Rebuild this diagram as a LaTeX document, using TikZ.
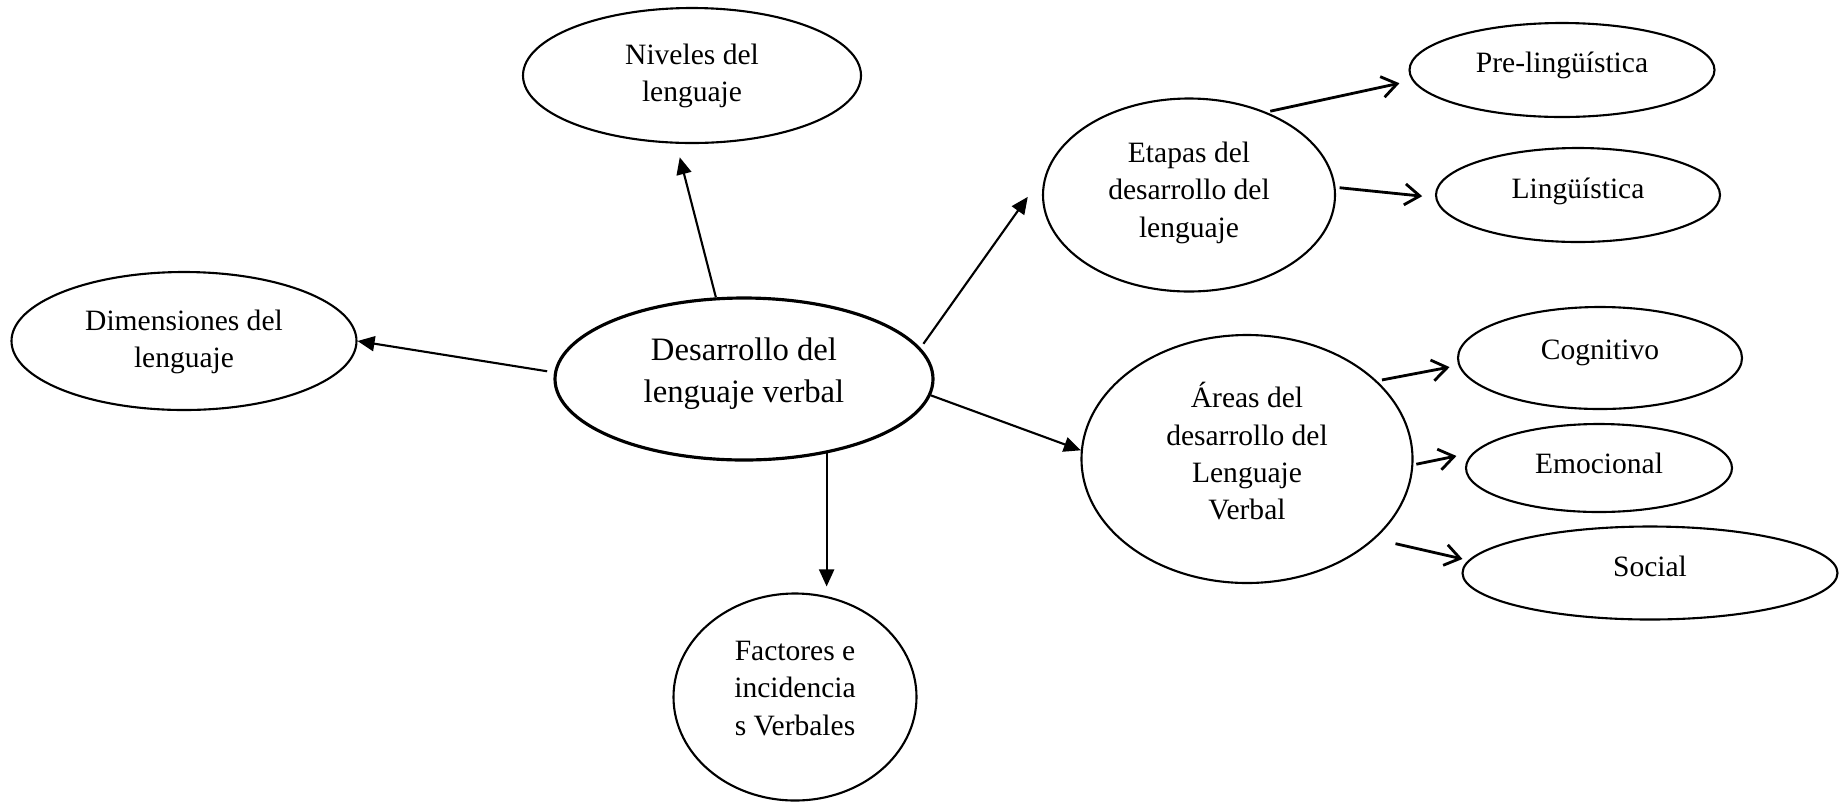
\documentclass[tikz,border=0pt]{standalone}
\usepackage{fontspec}
\setmainfont{Liberation Serif}
\usetikzlibrary{shapes.geometric, arrows.meta}

\newcommand{\ovaltext}[2][0mm]{\raisebox{\dimexpr #1-.25em\relax}[0pt][0pt]{\begin{tabular}{@{}c@{}}#2\end{tabular}}}

\begin{document}
\begin{tikzpicture}[x=0.1mm, y=-0.1mm,
  oval/.style={ellipse, draw, line width=0.6pt, inner sep=0pt, font=\fontsize{8.4}{10.6}\selectfont},
  big/.style={-{Triangle[length=1.7mm,width=1.5mm]}, line width=0.6pt},
  small/.style={-{Straight Barb[length=1.5mm,width=2.1mm]}, line width=0.8pt}]
\useasboundingbox (0,0) rectangle (1840,801);

% Centre and first level
\node[oval, line width=0.9pt, font=\fontsize{9.3}{12}\selectfont, minimum width=37.8mm, minimum height=16.2mm] (cen) at (744,379) {\ovaltext[0.6mm]{Desarrollo del\\lenguaje verbal}};
\node[oval, minimum width=33.8mm, minimum height=13.5mm] (niv) at (692,75.5) {\ovaltext{Niveles del\\lenguaje}};
\node[oval, minimum width=34.5mm, minimum height=13.8mm] (dim) at (184,341) {\ovaltext{Dimensiones del\\lenguaje}};
\node[oval, minimum width=24.3mm, minimum height=20.7mm] (fac) at (795,697) {\ovaltext[0.7mm]{Factores e\\incidencia\\s Verbales}};
\node[oval, minimum width=29.2mm, minimum height=19.3mm] (eta) at (1189,195) {\ovaltext[0.3mm]{Etapas del\\desarrollo del\\lenguaje}};
\node[oval, minimum width=33.1mm, minimum height=24.8mm] (are) at (1247,459) {\ovaltext[0.3mm]{Áreas del\\desarrollo del\\Lenguaje\\Verbal}};

% Second level
\node[oval, minimum width=30.5mm, minimum height=9.4mm] (pre) at (1562,70) {\ovaltext[0.5mm]{Pre-lingüística}};
\node[oval, minimum width=28.4mm, minimum height=9.4mm] (lin) at (1578,195) {\ovaltext[0.4mm]{Lingüística}};
\node[oval, minimum width=28.4mm, minimum height=10.2mm] (cog) at (1600,358) {\ovaltext[0.6mm]{Cognitivo}};
\node[oval, minimum width=26.6mm, minimum height=8.8mm] (emo) at (1599,468) {\ovaltext[0.2mm]{Emocional}};
\node[oval, minimum width=37.5mm, minimum height=9.3mm] (soc) at (1650,573) {\ovaltext[0.4mm]{Social}};

% Arrows from the centre
\draw[big, shorten >=1.4mm] (cen.109.7) -- (niv.257.5);
\draw[big, shorten <=0.7mm] (cen.178.5) -- (dim.0);
\draw[big, shorten <=0.5mm, shorten >=3.3mm] (cen.10.8) -- (eta.170);
\draw[big] (cen.355) -- (are.177);
\draw[big, shorten >=0.6mm] (cen.318.3) -- (cen.318.3 |- fac.north);

% Arrows to the stages and areas
\draw[small, shorten <=0.4mm, shorten >=1.3mm] (eta.47.8) -- (pre.184);
\draw[small, shorten <=0.4mm, shorten >=1.3mm] (eta.3.5) -- (lin.181);
\draw[small, shorten <=0.5mm, shorten >=0.9mm] (are.31.5) -- (cog.183);
\draw[small, shorten <=0.3mm, shorten >=1.7mm] (are.358.6) -- (emo.173);
\draw[small, shorten <=2.1mm, shorten >=0.6mm] (are.328.3) -- (soc.176.5);
\end{tikzpicture}
\end{document}
